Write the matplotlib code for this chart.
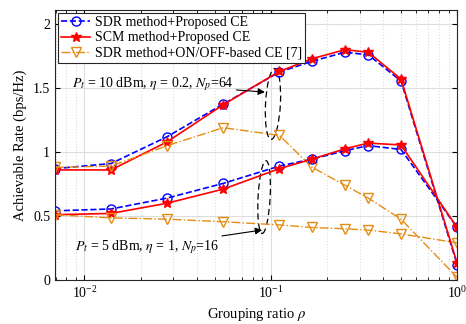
import numpy as np
import matplotlib
matplotlib.use("Agg")
import matplotlib.pyplot as plt
from matplotlib.patches import Ellipse

plt.rcParams['font.family'] = ['Liberation Serif', 'DejaVu Serif']
plt.rcParams['mathtext.fontset'] = 'stix'

# grouping ratio rho = 1/144 ... 1
rho = np.array([1/144, 1/72, 1/36, 1/18, 1/9, 1/6, 1/4, 1/3, 1/2, 1])

# Pt = 10 dBm, eta = 0.2, Np = 64
sdr_hi = [0.87, 0.91, 1.12, 1.375, 1.625, 1.71, 1.78, 1.76, 1.555, 0.12]
scm_hi = [0.86, 0.86, 1.08, 1.37, 1.63, 1.73, 1.80, 1.78, 1.57, 0.13]
onoff_hi = [0.88, 0.89, 1.05, 1.19, 1.13, 0.88, 0.74, 0.64, 0.475, 0.02]

# Pt = 5 dBm, eta = 1, Np = 16
sdr_lo = [0.54, 0.555, 0.64, 0.755, 0.89, 0.945, 1.01, 1.05, 1.02, 0.41]
scm_lo = [0.51, 0.52, 0.60, 0.71, 0.87, 0.945, 1.025, 1.07, 1.055, 0.41]
onoff_lo = [0.51, 0.485, 0.475, 0.455, 0.43, 0.41, 0.40, 0.39, 0.36, 0.29]

orange = '#E58C14'

fig = plt.figure(figsize=(4.66, 3.24), dpi=100)
ax = fig.add_axes([0.118, 0.136, 0.863, 0.833])

ax.semilogx(rho, sdr_hi, '--o', color='b', mfc='none', ms=6.5, lw=1.2,
            label='SDR method+Proposed CE')
ax.semilogx(rho, scm_hi, '-*', color='r', ms=7, lw=1.2,
            label='SCM method+Proposed CE')
ax.semilogx(rho, onoff_hi, '-.v', color=orange, mfc='none', ms=7, lw=1.0,
            label='SDR method+ON/OFF-based CE [7]')
ax.semilogx(rho, sdr_lo, '--o', color='b', mfc='none', ms=6.5, lw=1.2)
ax.semilogx(rho, scm_lo, '-*', color='r', ms=7, lw=1.2)
ax.semilogx(rho, onoff_lo, '-.v', color=orange, mfc='none', ms=7, lw=1.0)

ax.set_xlim(1/144, 1)
ax.set_ylim(0, 2.11)
ax.set_yticks([0, 0.5, 1, 1.5, 2])
ax.set_yticklabels(['0', '0.5', '1', '1.5', '2'])

ax.grid(True, which='major', color='#dddddd', lw=0.8)
ax.grid(True, which='minor', axis='x', color='#dddddd', ls=':', lw=0.8)
ax.set_axisbelow(True)
ax.tick_params(which='both', direction='in', top=True, right=True, labelsize=10)
for s in ax.spines.values():
    s.set_color('#262626')

ax.set_xlabel(r'Grouping ratio $\rho$', fontsize=10.5)
ax.set_ylabel('Achievable Rate (bps/Hz)', fontsize=10.5)

leg = ax.legend(loc='upper left', fontsize=10, fancybox=False, framealpha=1,
                edgecolor='#262626', borderpad=0.25, labelspacing=0.15,
                handlelength=2.1, handletextpad=0.3, borderaxespad=0.2)
leg.get_frame().set_linewidth(0.8)

# dashed ellipses marking the two groups (axes coordinates)
ax.add_patch(Ellipse((0.542, 0.652), 0.037, 0.263, angle=-2, transform=ax.transAxes,
                     fill=False, ls=(0, (5, 3)), lw=0.9, color='k'))
ax.add_patch(Ellipse((0.520, 0.307), 0.030, 0.27, angle=-2, transform=ax.transAxes,
                     fill=False, ls=(0, (5, 3)), lw=0.9, color='k'))

ax.annotate(r'$P_t$ = 10 dBm, $\eta$ = 0.2, $N_p$=64', xy=(0.522, 0.696),
            xytext=(0.042, 0.727), xycoords='axes fraction', textcoords='axes fraction',
            fontsize=10, va='center',
            arrowprops=dict(arrowstyle='-|>', color='k', lw=0.8, shrinkA=0, shrinkB=0))
ax.annotate(r'$P_t$ = 5 dBm, $\eta$ = 1, $N_p$=16', xy=(0.515, 0.185),
            xytext=(0.05, 0.122), xycoords='axes fraction', textcoords='axes fraction',
            fontsize=10, va='center',
            arrowprops=dict(arrowstyle='-|>', color='k', lw=0.8, shrinkA=0, shrinkB=0))

fig.savefig('out.png', dpi=100)
